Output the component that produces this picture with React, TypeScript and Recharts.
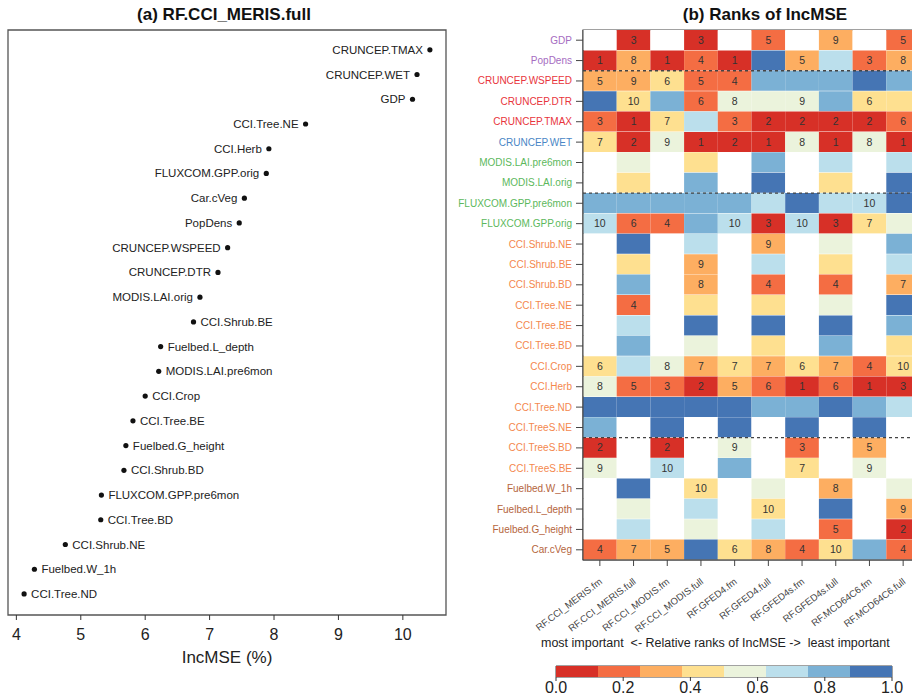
import React from "react";
import {
  ScatterChart,
  Scatter,
  BarChart,
  Bar,
  Cell,
  XAxis,
  YAxis,
  LabelList,
  ReferenceArea,
  ReferenceLine,
} from "recharts";

// (a) variable importance of RF.CCI_MERIS.full, most important first
const meritsVars = [
  "CRUNCEP.TMAX", "CRUNCEP.WET", "GDP", "CCI.Tree.NE", "CCI.Herb", "FLUXCOM.GPP.orig",
  "Car.cVeg", "PopDens", "CRUNCEP.WSPEED", "CRUNCEP.DTR", "MODIS.LAI.orig", "CCI.Shrub.BE",
  "Fuelbed.L_depth", "MODIS.LAI.pre6mon", "CCI.Crop", "CCI.Tree.BE", "Fuelbed.G_height",
  "CCI.Shrub.BD", "FLUXCOM.GPP.pre6mon", "CCI.Tree.BD", "CCI.Shrub.NE", "Fuelbed.W_1h", "CCI.Tree.ND",
];
const meritsIncMse = [
  10.42, 10.22, 10.15, 8.49, 7.92, 7.88, 7.54, 7.46, 7.28, 7.13, 6.85, 6.75,
  6.24, 6.21, 6.0, 5.81, 5.7, 5.67, 5.32, 5.31, 4.76, 4.28, 4.12,
];
const incMseTicks = [4, 5, 6, 7, 8, 9, 10];

// (b) predictors (rows) and models (columns)
const predictors = [
  "GDP", "PopDens", "CRUNCEP.WSPEED", "CRUNCEP.DTR", "CRUNCEP.TMAX", "CRUNCEP.WET",
  "MODIS.LAI.pre6mon", "MODIS.LAI.orig", "FLUXCOM.GPP.pre6mon", "FLUXCOM.GPP.orig",
  "CCI.Shrub.NE", "CCI.Shrub.BE", "CCI.Shrub.BD", "CCI.Tree.NE", "CCI.Tree.BE", "CCI.Tree.BD",
  "CCI.Crop", "CCI.Herb", "CCI.Tree.ND", "CCI.TreeS.NE", "CCI.TreeS.BD", "CCI.TreeS.BE",
  "Fuelbed.W_1h", "Fuelbed.L_depth", "Fuelbed.G_height", "Car.cVeg",
];
const predictorGroup = [
  "socio", "socio", "climate", "climate", "climate", "wet",
  "veg", "veg", "veg", "veg",
  "cci", "cci", "cci", "cci", "cci", "cci", "cci", "cci", "cci", "cci", "cci", "cci",
  "fuel", "fuel", "fuel", "fuel",
];
const groupColors: Record<string, string> = {
  socio: "#a56cc1",
  climate: "#e8343c",
  wet: "#4a86c5",
  veg: "#5cb85c",
  cci: "#f4884e",
  fuel: "#b5653d",
};
const models = [
  "RF.CCI_MERIS.fm", "RF.CCI_MERIS.full", "RF.CCI_MODIS.fm", "RF.CCI_MODIS.full",
  "RF.GFED4.fm", "RF.GFED4.full", "RF.GFED4s.fm", "RF.GFED4s.full",
  "RF.MCD64C6.fm", "RF.MCD64C6.full",
];

// rank of each predictor in each model (null = not in model), rows in predictor order
const _ = null;
const rankMerisFm = [_, 1, 5, 13, 3, 7, _, _, 11, 10, _, _, _, _, _, _, 6, 8, 14, 12, 2, 9, _, _, _, 4];
const rankMerisFull = [3, 8, 9, 10, 1, 2, 14, 11, 19, 6, 21, 12, 18, 4, 16, 20, 15, 5, 23, _, _, _, 22, 13, 17, 7];
const rankModisFm = [_, 1, 6, 11, 7, 9, _, _, 12, 4, _, _, _, _, _, _, 8, 3, 13, 14, 2, 10, _, _, _, 5];
const rankModisFull = [3, 4, 5, 6, 15, 1, 11, 18, 19, 20, 16, 9, 8, 12, 21, 13, 7, 2, 22, _, _, _, 10, 17, 14, 23];
const rankGfed4Fm = [_, 1, 4, 8, 3, 2, _, _, 11, 10, _, _, _, _, _, _, 7, 5, 13, 14, 9, 12, _, _, _, 6];
const rankGfed4Full = [5, 21, 18, 13, 2, 1, 19, 22, 15, 3, 9, 16, 4, 11, 23, 12, 7, 6, 20, _, _, _, 14, 10, 17, 8];
const rankGfed4sFm = [_, 5, 11, 9, 2, 8, _, _, 13, 10, _, _, _, _, _, _, 6, 1, 12, 14, 3, 7, _, _, _, 4];
const rankGfed4sFull = [9, 15, 18, 19, 2, 1, 16, 11, 17, 3, 13, 12, 4, 14, 21, 20, 7, 6, 22, _, _, _, 8, 23, 5, 10];
const rankMcdFm = [_, 3, 13, 6, 2, 8, _, _, 10, 7, _, _, _, _, _, _, 4, 1, 11, 14, 5, 9, _, _, _, 12];
const rankMcdFull = [5, 8, 18, 11, 6, 1, 15, 21, 22, 13, 19, 16, 7, 23, 20, 12, 10, 3, 17, _, _, _, 14, 9, 2, 4];

const modelRanks = [
  rankMerisFm, rankMerisFull, rankModisFm, rankModisFull, rankGfed4Fm,
  rankGfed4Full, rankGfed4sFm, rankGfed4sFull, rankMcdFm, rankMcdFull,
];

// colour scale of relative ranks
const rankColors = ["#d73027", "#f46d43", "#fdae61", "#fee090", "#ebf3dc", "#bbdfec", "#7bb1d5", "#4575b4"];
const colorBreaks = [0, 0.125, 0.25, 0.375, 0.5, 0.625, 0.75, 0.875, 1];
const colorTicks = [0, 0.2, 0.4, 0.6, 0.8, 1];

// rows that start a new block of predictors
const blockStarts = ["CRUNCEP.WSPEED", "FLUXCOM.GPP.pre6mon", "CCI.TreeS.BD"];

const relColor = (rel: number) => {
  let k = 0;
  while (k < rankColors.length - 1 && rel > colorBreaks[k + 1] + 1e-9) k++;
  return rankColors[k];
};

const cellColor = (col: number, row: number) => {
  const ranks = modelRanks[col];
  const r = ranks[row];
  if (r == null) return "#ffffff";
  const n = ranks.filter((v) => v != null).length;
  return relColor((r - 1) / (n - 1));
};

const scatterData = meritsVars.map((name, i) => ({ name, x: meritsIncMse[i], y: i }));

const heatData = predictors.map((name, i) => {
  const row: Record<string, string | number | null> = { name };
  models.forEach((_m, j) => {
    const r = modelRanks[j][i];
    row[`c${j}`] = 1;
    row[`lab${j}`] = r != null && r <= 10 ? r : null;
  });
  return row;
});

const barData = [
  colorBreaks.slice(1).reduce(
    (acc, b, k) => ({ ...acc, [`s${k}`]: b - colorBreaks[k] }),
    { name: "bar" } as Record<string, string | number>
  ),
];

const PointLabel = (props: any) => {
  const { x, y, width, height, index } = props;
  const cx = x + width / 2;
  const cy = y + height / 2;
  const left = meritsIncMse[index] > 6.8;
  return (
    <text
      x={left ? cx - 7 : cx + 7}
      y={cy}
      dy="0.35em"
      textAnchor={left ? "end" : "start"}
      fontSize={11.5}
      fill="#222"
    >
      {meritsVars[index]}
    </text>
  );
};

const CellLabel = (props: any) => {
  const { x, y, width, height, value } = props;
  if (value == null) return null;
  return (
    <text x={x + width / 2} y={y + height / 2} dy="0.36em" textAnchor="middle" fontSize={10.5} fill="#333">
      {value}
    </text>
  );
};

const RowTick = (props: any) => {
  const { x, y, payload, index } = props;
  return (
    <text x={x} y={y} dy="0.35em" textAnchor="end" fontSize={10} fill={groupColors[predictorGroup[index]]}>
      {payload.value}
    </text>
  );
};

const ModelTick = (props: any) => {
  const { x, y, payload } = props;
  const ax = x + 3;
  const ay = y + 15;
  return (
    <text x={ax} y={ay} textAnchor="end" fontSize={9.6} fill="#444" transform={`rotate(-37, ${ax}, ${ay})`}>
      {models[Math.round(payload.value - 0.5)]}
    </text>
  );
};

const titleStyle: React.CSSProperties = {
  position: "absolute",
  top: 5,
  fontWeight: "bold",
  fontSize: 17,
  transform: "translateX(-50%)",
  whiteSpace: "nowrap",
  color: "#111",
};

export default function App() {
  return (
    <div
      style={{
        position: "absolute",
        left: 0,
        top: 0,
        width: 912,
        height: 697,
        overflow: "hidden",
        background: "#fff",
        fontFamily: "'Liberation Sans', Arial, sans-serif",
      }}
    >
      <div style={{ ...titleStyle, left: 224 }}>(a) RF.CCI_MERIS.full</div>
      <div style={{ ...titleStyle, left: 765 }}>(b) Ranks of IncMSE</div>

      {/* (a) dot chart */}
      <div style={{ position: "absolute", left: 0, top: 0 }}>
        <ScatterChart width={460} height={697} margin={{ top: 30, right: 14, bottom: 32, left: 8 }}>
          <XAxis
            type="number"
            dataKey="x"
            domain={[3.87, 10.67]}
            ticks={incMseTicks}
            allowDataOverflow
            axisLine={false}
            tickLine={{ stroke: "#333" }}
            tickSize={5}
            tickMargin={9}
            height={50}
            tick={{ fontSize: 16, fill: "#222" }}
            label={{ value: "IncMSE (%)", position: "insideBottom", offset: 2, fontSize: 17, fill: "#222" }}
          />
          <YAxis type="number" dataKey="y" domain={[-0.8, 22.85]} reversed hide />
          <ReferenceArea x1={3.87} x2={10.67} fill="none" stroke="#555" strokeWidth={1.3} ifOverflow="visible" />
          <Scatter
            data={scatterData}
            isAnimationActive={false}
            shape={(p: any) => <circle cx={p.cx} cy={p.cy} r={2.6} fill="#111" />}
          >
            <LabelList dataKey="name" content={PointLabel} />
          </Scatter>
        </ScatterChart>
      </div>

      {/* (b) rank heatmap */}
      <div style={{ position: "absolute", left: 440, top: 0 }}>
        <BarChart
          width={490}
          height={697}
          layout="vertical"
          data={heatData}
          barCategoryGap={0}
          barGap={0}
          margin={{ top: 30, right: 10, bottom: 57, left: 0 }}
        >
          <XAxis
            type="number"
            domain={[0, models.length]}
            ticks={models.map((_m, j) => j + 0.5)}
            height={80}
            axisLine={{ stroke: "#444" }}
            tickLine={{ stroke: "#444" }}
            tickSize={6}
            tickMargin={2}
            tick={<ModelTick />}
            interval={0}
          />
          <YAxis
            type="category"
            dataKey="name"
            width={143}
            interval={0}
            axisLine={{ stroke: "#444" }}
            tickLine={{ stroke: "#444" }}
            tickSize={7}
            tickMargin={4}
            tick={<RowTick />}
          />
          {models.map((m, j) => (
            <Bar key={m} dataKey={`c${j}`} stackId="heat" isAnimationActive={false}>
              {predictors.map((p, i) => (
                <Cell key={p} fill={cellColor(j, i)} />
              ))}
              <LabelList dataKey={`lab${j}`} content={CellLabel} />
            </Bar>
          ))}
          {blockStarts.map((b) => (
            <ReferenceLine
              key={b}
              y={b}
              position="start"
              stroke="#444"
              strokeWidth={1.3}
              strokeDasharray="3 3"
              ifOverflow="visible"
            />
          ))}
          <ReferenceArea x1={0} x2={models.length} fill="none" stroke="#444" strokeWidth={1.2} ifOverflow="visible" />
        </BarChart>
      </div>

      {/* colour bar */}
      <div
        style={{
          position: "absolute",
          left: 541,
          top: 636,
          fontSize: 12.5,
          color: "#222",
          whiteSpace: "pre",
        }}
      >
        {"most important  <- Relative ranks of IncMSE ->  least important"}
      </div>
      <div style={{ position: "absolute", left: 520, top: 642 }}>
        <BarChart
          width={400}
          height={60}
          layout="vertical"
          data={barData}
          barCategoryGap={0}
          margin={{ top: 24, right: 28, bottom: 0, left: 36 }}
        >
          <XAxis
            type="number"
            domain={[0, 1]}
            ticks={colorTicks}
            height={25}
            axisLine={false}
            tickLine={{ stroke: "#333" }}
            tickSize={4}
            tickMargin={1}
            tick={{ fontSize: 16, fill: "#222" }}
            tickFormatter={(v: number) => v.toFixed(1)}
          />
          <YAxis type="category" dataKey="name" hide />
          {rankColors.map((c, k) => (
            <Bar key={c} dataKey={`s${k}`} stackId="bar" fill={c} isAnimationActive={false} />
          ))}
          <ReferenceArea x1={0} x2={1} fill="none" stroke="#444" strokeWidth={1} ifOverflow="visible" />
        </BarChart>
      </div>
    </div>
  );
}
